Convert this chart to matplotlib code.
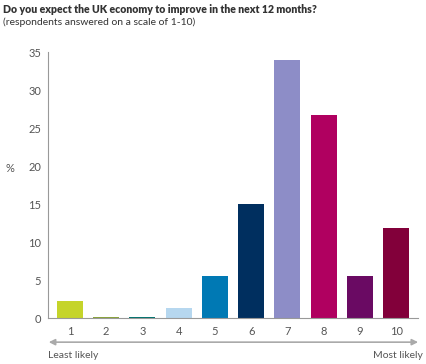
import matplotlib.pyplot as plt

plt.rcParams['font.family'] = ['Lato', 'DejaVu Sans']

# Scale points and share of respondents (%)
scores = ['1', '2', '3', '4', '5', '6', '7', '8', '9', '10']
shares = [2.2, 0.12, 0.12, 1.3, 5.5, 15.0, 34.0, 26.7, 5.5, 11.8]
colours = ['#c5d42a', '#8aa33a', '#00726e', '#b6d7ef', '#0079b4',
           '#002f5f', '#8d8dc7', '#b00060', '#6a0a63', '#82003a']

fig = plt.figure(figsize=(4.26, 3.64), dpi=100)
ax = fig.add_axes([0.113, 0.126, 0.868, 0.731])

ax.bar(range(len(scores)), shares, width=0.72, color=colours)

ax.set_xlim(-0.6, 9.6)
ax.set_ylim(0, 35)
ax.set_yticks(range(0, 36, 5))
ax.set_xticks(range(len(scores)))
ax.set_xticklabels(scores)
ax.tick_params(length=0, labelsize=8, colors='#555555', pad=6)
ax.tick_params(axis='y', pad=5)
for side in ['top', 'right']:
    ax.spines[side].set_visible(False)
for side in ['left', 'bottom']:
    ax.spines[side].set_color('#999999')
    ax.spines[side].set_linewidth(0.8)

fig.text(0.012, 0.538, '%', fontsize=8, color='#555555', va='center')

# Titles
fig.text(0.007, 0.975, 'Do you expect the UK economy to improve in the next 12 months?',
         fontsize=7.6, fontweight='heavy', color='#333333', va='center')
fig.text(0.007, 0.94, '(respondents answered on a scale of 1-10)',
         fontsize=7.5, color='#333333', va='center')

# Likelihood arrow below the axis
fig.add_artist(plt.Annotation('', xy=(0.988, 0.06), xytext=(0.108, 0.06),
                              xycoords='figure fraction',
                              arrowprops=dict(arrowstyle='<|-|>', color='#aaaaaa',
                                              lw=1.2, mutation_scale=9)))
fig.text(0.113, 0.022, 'Least likely', fontsize=7.5, color='#555555', va='center')
fig.text(0.992, 0.022, 'Most likely', fontsize=7.5, color='#555555', va='center', ha='right')

fig.savefig('out.png', dpi=100)
